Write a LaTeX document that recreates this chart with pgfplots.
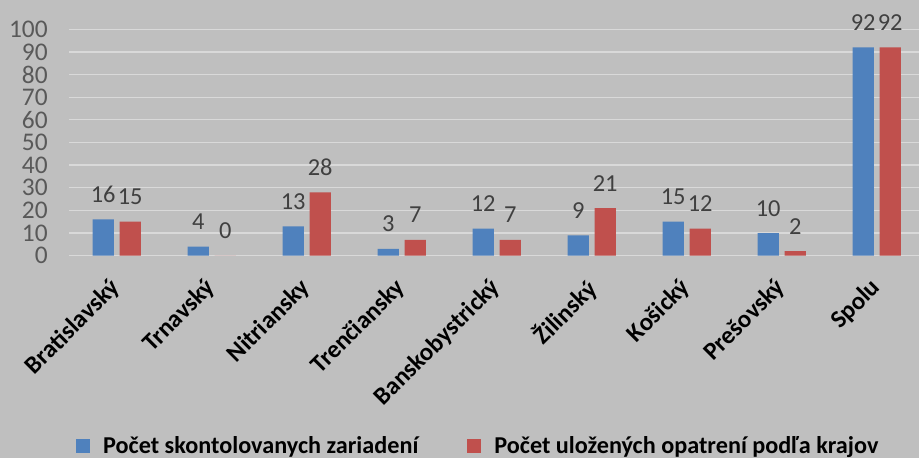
\documentclass[border=0pt]{standalone}
\usepackage{pgfplots}
\pgfplotsset{compat=1.18}
\usepackage{fontspec}
\setmainfont{Carlito}
\definecolor{bg}{HTML}{BFBFBF}
\definecolor{gridc}{HTML}{D9D9D9}
\definecolor{cblue}{HTML}{4F81BD}
\definecolor{cred}{HTML}{C0504D}
\definecolor{ticktxt}{HTML}{595959}
\definecolor{lbltxt}{HTML}{404040}
\begin{document}
\begin{tikzpicture}[x=1bp,y=1bp]
\fill[bg] (0,0) rectangle (919,458);
\useasboundingbox (0,0) rectangle (919,458);
\begin{axis}[
  at={(69.2bp,202.3bp)}, anchor=south west,
  scale only axis, width=855bp, height=226.4bp,
  ybar=5.6bp, bar width=21.4bp,
  xmin=-0.5, xmax=8.5, ymin=0, ymax=100,
  ytick={0,10,...,100},
  xtick={0,...,8},
  xticklabels={Bratislavský,Trnavský,Nitriansky,Trenčiansky,Banskobystrický,Žilinský,Košický,Prešovský,Spolu},
  x tick label style={font=\fontsize{25}{28}\selectfont\bfseries, text=black, rotate=45, anchor=north east, inner sep=0pt, xshift=-20bp, yshift=-9bp},
  y tick label style={font=\fontsize{25.5}{30}\selectfont, text=ticktxt},
  /pgf/number format/assume math mode=true,
  ymajorgrids, grid style={gridc, line width=1.3bp},
  axis line style={draw=none}, major tick length=0pt,
  yticklabel style={xshift=-18bp},
  clip=false,
  nodes near coords,
  every node near coord/.append style={font=\fontsize{24.5}{28}\selectfont, text=lbltxt, anchor=base, yshift=17bp},
  legend columns=2,
  legend style={at={(0.4785,-0.84)}, anchor=center, draw=none, fill=none, font=\fontsize{24.3}{28}\selectfont\bfseries, /tikz/every even column/.append style={column sep=47bp}},
  legend image code/.code={\fill[#1] (0bp,-7bp) rectangle (14bp,7bp); \path (25bp,0bp);},
]
\addplot[fill=cblue, draw=none] coordinates {(0,16) (1,4) (2,13) (3,3) (4,12) (5,9) (6,15) (7,10) (8,92)};
\addplot[fill=cred, draw=none] coordinates {(0,15) (1,0) (2,28) (3,7) (4,7) (5,21) (6,12) (7,2) (8,92)};
\legend{Počet skontolovanych zariadení, Počet uložených opatrení podľa krajov}
\end{axis}
\end{tikzpicture}
\end{document}
